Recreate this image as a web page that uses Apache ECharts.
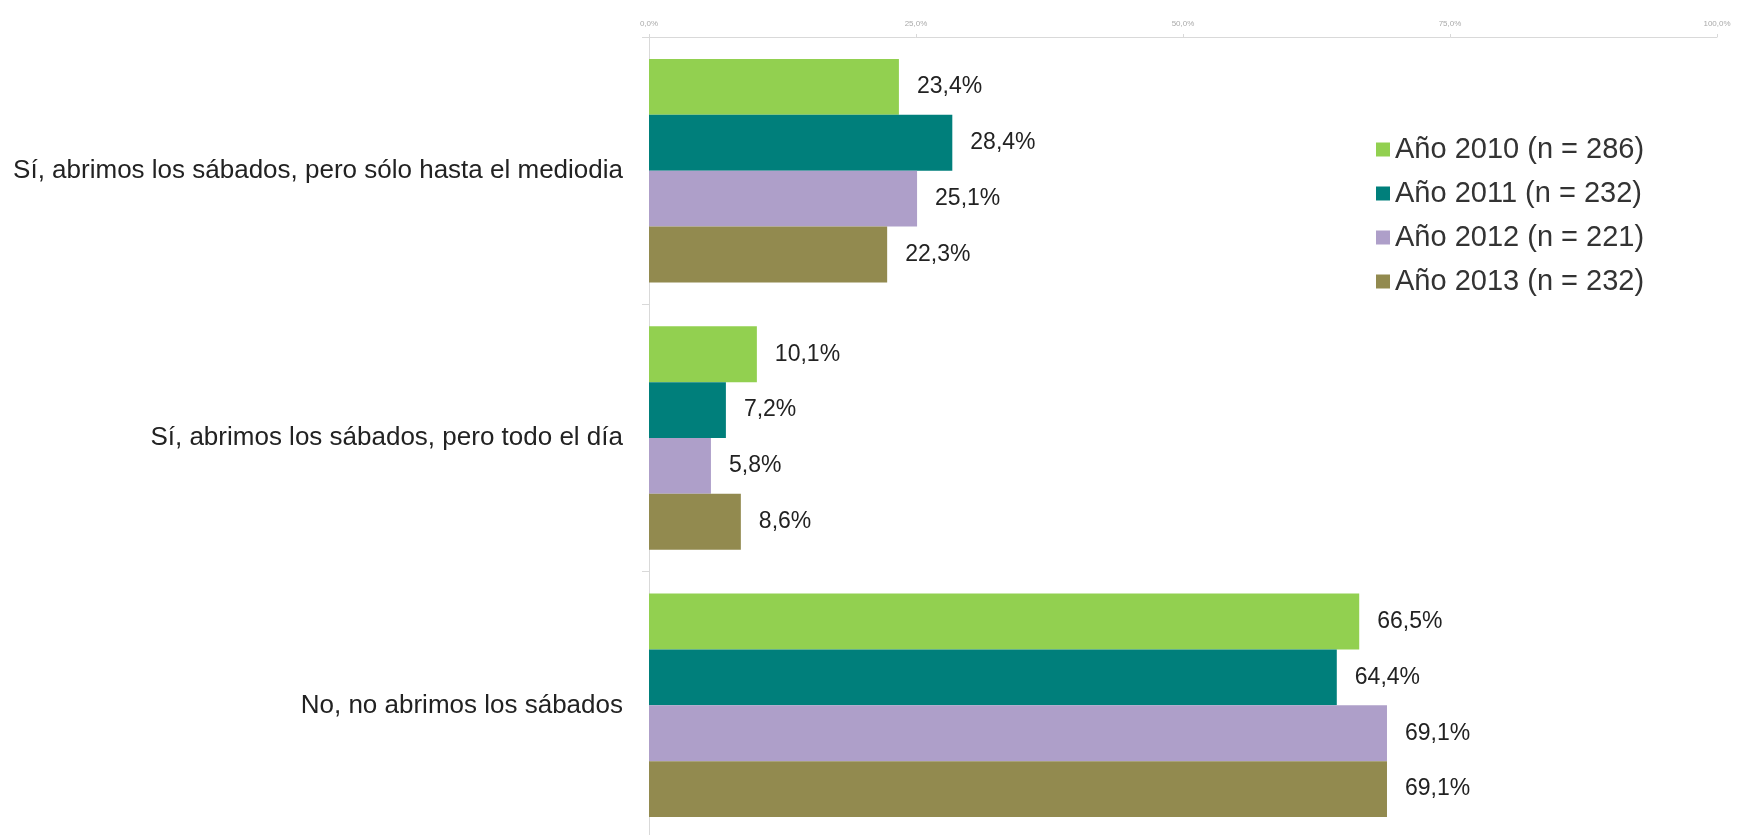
<!DOCTYPE html>
<html>
<head>
<meta charset="utf-8">
<script src="https://cdn.jsdelivr.net/npm/echarts@6/dist/echarts.min.js"></script>
<style>html,body{margin:0;padding:0;background:#fff}#c{width:1745px;height:835px}</style>
</head>
<body>
<div id="c"></div>
<script>
const categories = [
  "Sí, abrimos los sábados, pero sólo hasta el mediodia",
  "Sí, abrimos los sábados, pero todo el día",
  "No, no abrimos los sábados"
];
const seriesNames = ["Año 2010 (n = 286)", "Año 2011 (n = 232)", "Año 2012 (n = 221)", "Año 2013 (n = 232)"];
const values2010 = [23.4, 10.1, 66.5];
const values2011 = [28.4, 7.2, 64.4];
const values2012 = [25.1, 5.8, 69.1];
const values2013 = [22.3, 8.6, 69.1];
const colors = ["#92d050", "#007f7b", "#ae9fc9", "#928a4f"];
const allValues = [values2010, values2011, values2012, values2013];

const fmt = v => v.toFixed(1).replace('.', ',') + '%';

const chart = echarts.init(document.getElementById('c'), null, {renderer: 'canvas'});
chart.setOption({
  animation: false,
  backgroundColor: '#fff',
  grid: {left: 649, right: 28, top: 37, height: 802, containLabel: false, outerBoundsMode: 'none'},
  legend: {
    orient: 'vertical',
    left: 1371, top: 130,
    itemWidth: 14, itemHeight: 14, itemGap: 15,
    icon: 'rect',
    textStyle: {fontFamily: 'Liberation Sans, Arial', fontSize: 29, color: '#333'},
    data: seriesNames
  },
  xAxis: {
    type: 'value', position: 'top', min: 0, max: 100, interval: 25,
    axisLine: {show: true, lineStyle: {color: '#d9d9d9'}},
    axisTick: {show: true, length: 3, lineStyle: {color: '#d9d9d9'}},
    splitLine: {show: false},
    axisLabel: {fontSize: 8, color: '#aaa', margin: 9, formatter: v => v.toFixed(1).replace('.', ',') + '%'}
  },
  yAxis: {
    type: 'category', inverse: true, data: categories,
    axisLine: {show: true, lineStyle: {color: '#d9d9d9'}},
    axisTick: {show: true, length: 7, lineStyle: {color: '#d9d9d9'}},
    axisLabel: {fontFamily: 'Liberation Sans, Arial', fontSize: 26, color: '#222', margin: 26}
  },
  series: allValues.map((vals, i) => ({
    name: seriesNames[i], type: 'bar', data: vals,
    barGap: '0%', barCategoryGap: '16.4%',
    itemStyle: {color: colors[i]},
    label: {show: true, position: 'right', distance: 18, fontFamily: 'Liberation Sans, Arial', fontSize: 23, color: '#222',
      formatter: p => fmt(p.value)}
  }))
});
</script>
</body>
</html>
